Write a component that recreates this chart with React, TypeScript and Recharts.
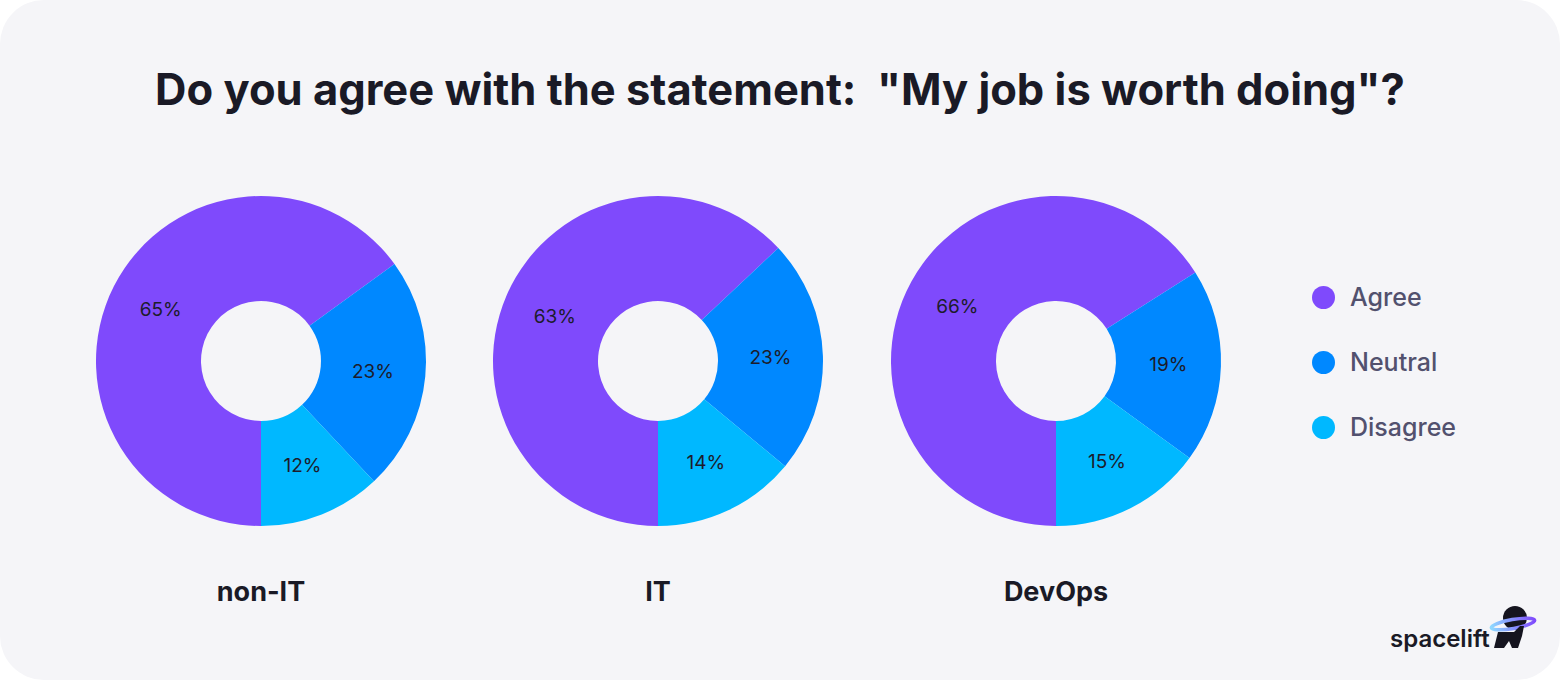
import { PieChart, Pie, Cell } from 'recharts';

const answers = ['Agree', 'Neutral', 'Disagree'];
const groups = ['non-IT', 'IT', 'DevOps'];
const nonItShares = [65, 23, 12];
const itShares = [63, 23, 14];
const devOpsShares = [66, 19, 15];

const COLORS = ['#7f4afc', '#0088ff', '#00b8ff'];
const FONT = 'Inter, "Noto Sans", sans-serif';
const RAD = Math.PI / 180;

const seriesByGroup = [nonItShares, itShares, devOpsShares];
const pieCenters = [261, 658, 1056];
const PIE_CY = 361;

const toRows = (values: number[]) =>
  values.map((value, i) => ({ name: answers[i], value }));

// percentage text sits in the middle of the ring
const renderLabel = (props: any) => {
  const { cx, cy, midAngle, innerRadius, outerRadius, value } = props;
  const r = (innerRadius + outerRadius) / 2;
  const x = cx + r * Math.cos(-midAngle * RAD);
  const y = cy + r * Math.sin(-midAngle * RAD);
  return (
    <text
      x={x}
      y={y}
      textAnchor="middle"
      dominantBaseline="central"
      fill="#1d1c2b"
      fontSize={19}
      fontFamily={FONT}
    >
      {`${value}%`}
    </text>
  );
};

function Logo() {
  return (
    <div style={{ position: 'absolute', left: 1390, top: 604, display: 'flex', alignItems: 'flex-end' }}>
      <span style={{ fontFamily: FONT, fontWeight: 600, fontSize: 24, color: '#1a1a26', lineHeight: '30px' }}>
        spacelift
      </span>
      <svg width={50} height={46} viewBox="0 0 50 46" style={{ marginLeft: -2, marginBottom: 4 }}>
        <defs>
          <linearGradient id="ring" x1="0" x2="1" y1="0" y2="0">
            <stop offset="0%" stopColor="#8fd8ff" />
            <stop offset="100%" stopColor="#7f4afc" />
          </linearGradient>
        </defs>
        <circle cx={27} cy={14} r={12} fill="#15141f" />
        <ellipse cx={25} cy={20} rx={22} ry={4.5} fill="none" stroke="url(#ring)" strokeWidth={3.5} transform="rotate(-10 25 20)" />
        <path d="M6 44 L10 28 L26 28 L32 22 L36 22 L34 32 L30 44 L24 44 L21 37 L16 44 Z" fill="#15141f" />
      </svg>
    </div>
  );
}

export default function App() {
  return (
    <div
      style={{
        position: 'absolute',
        left: 0,
        top: 0,
        width: 1560,
        height: 680,
        background: '#ffffff',
        overflow: 'hidden',
      }}
    >
      <div
        style={{
          position: 'absolute',
          inset: 0,
          background: '#f5f5f8',
          borderRadius: 44,
        }}
      />
      <div
        style={{
          position: 'absolute',
          left: 0,
          width: 1560,
          top: 59,
          textAlign: 'center',
          fontFamily: FONT,
          fontWeight: 700,
          fontSize: 43.5,
          color: '#1a1a26',
          lineHeight: '60px',
        }}
      >
        Do you agree with the statement:&nbsp; "My job is worth doing"?
      </div>

      <div style={{ position: 'absolute', left: 0, top: 0 }}>
        <PieChart width={1560} height={680} margin={{ top: 0, right: 0, bottom: 0, left: 0 }}>
          {seriesByGroup.map((values, g) => (
            <Pie
              key={groups[g]}
              data={toRows(values)}
              dataKey="value"
              nameKey="name"
              cx={pieCenters[g]}
              cy={PIE_CY}
              innerRadius={60}
              outerRadius={165}
              startAngle={270}
              endAngle={-90}
              stroke="none"
              label={renderLabel}
              labelLine={false}
              isAnimationActive={false}
            >
              {values.map((_, i) => (
                <Cell key={`cell-${g}-${i}`} fill={COLORS[i]} />
              ))}
            </Pie>
          ))}
        </PieChart>
      </div>

      {groups.map((name, g) => (
        <div
          key={name}
          style={{
            position: 'absolute',
            left: pieCenters[g] - 150,
            width: 300,
            top: 574,
            textAlign: 'center',
            fontFamily: FONT,
            fontWeight: 700,
            fontSize: 27,
            color: '#1a1a26',
            lineHeight: '36px',
          }}
        >
          {name}
        </div>
      ))}

      {answers.map((name, i) => (
        <div
          key={name}
          style={{
            position: 'absolute',
            left: 1312,
            top: 280 + i * 65,
            height: 34,
            display: 'flex',
            alignItems: 'center',
            fontFamily: FONT,
            fontWeight: 500,
            fontSize: 25,
            color: '#52516e',
          }}
        >
          <span
            style={{
              width: 23,
              height: 23,
              borderRadius: '50%',
              background: COLORS[i],
              marginRight: 15,
              display: 'inline-block',
            }}
          />
          {name}
        </div>
      ))}

      <Logo />
    </div>
  );
}
